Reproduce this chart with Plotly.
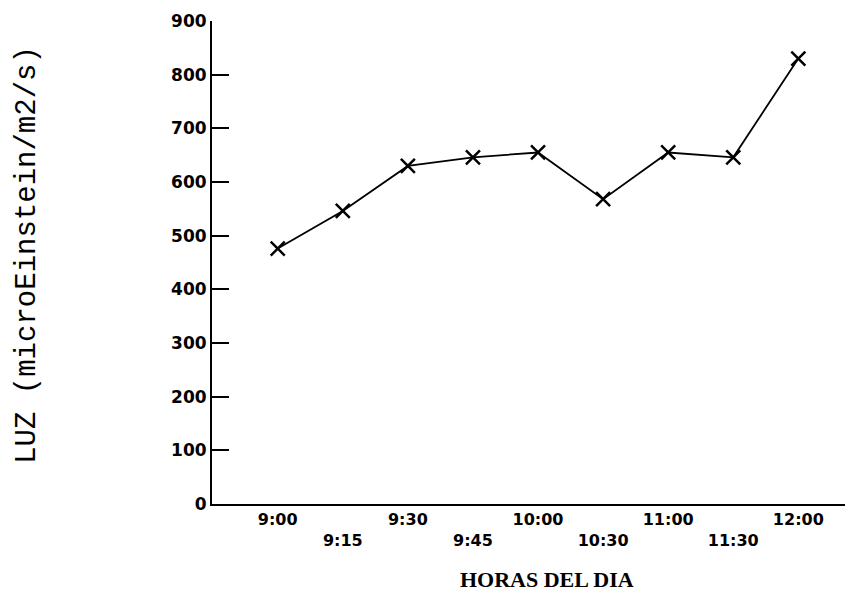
import plotly.graph_objects as go

horas = ["9:00", "9:15", "9:30", "9:45", "10:00", "10:30", "11:00", "11:30", "12:00"]
luz = [476, 546, 630, 646, 655, 568, 655, 646, 830]
y_ticks = [0, 100, 200, 300, 400, 500, 600, 700, 800, 900]

idx = list(range(len(horas)))
tick_text = [h if i % 2 == 0 else "<br>" + h for i, h in enumerate(horas)]

fig = go.Figure()
fig.add_trace(go.Scatter(
    x=idx, y=luz, mode="lines+markers",
    line=dict(color="black", width=1.8),
    marker=dict(symbol="x-thin-open", size=14, line=dict(color="black", width=2.5)),
    showlegend=False, cliponaxis=False,
))

# page body has an 8px margin: shrink the figure and shift margins to compensate
fig.update_layout(
    width=845, height=588,
    margin=dict(l=204, r=0, t=13, b=92),
    paper_bgcolor="white", plot_bgcolor="white",
    xaxis=dict(
        range=[-1.01, 8.84], tickvals=idx, ticktext=tick_text,
        showline=True, linecolor="black", linewidth=2,
        ticks="", showgrid=False, zeroline=False,
        tickfont=dict(family="DejaVu Sans", size=16, color="black", weight="bold"),
    ),
    yaxis=dict(
        range=[0, 900], tickvals=y_ticks, ticktext=[str(v) for v in y_ticks],
        showline=True, linecolor="black", linewidth=2,
        ticks="inside", ticklen=17, tickwidth=2, tickcolor="black",
        showgrid=False, zeroline=False,
        tickfont=dict(family="DejaVu Sans", size=17, color="black", weight="bold"),
    ),
    annotations=[
        dict(text="LUZ (microEinstein/m2/s)", xref="paper", yref="paper",
             x=-0.287, y=0.516, xanchor="center", yanchor="middle",
             textangle=-90, showarrow=False,
             font=dict(family="Liberation Mono", size=29, color="black")),
        dict(text="<b>HORAS DEL DIA</b>", xref="paper", yref="paper",
             x=0.523, y=-0.157, xanchor="center", yanchor="middle",
             showarrow=False,
             font=dict(family="Liberation Serif", size=22, color="black")),
    ],
)

fig.write_html("out.html")
